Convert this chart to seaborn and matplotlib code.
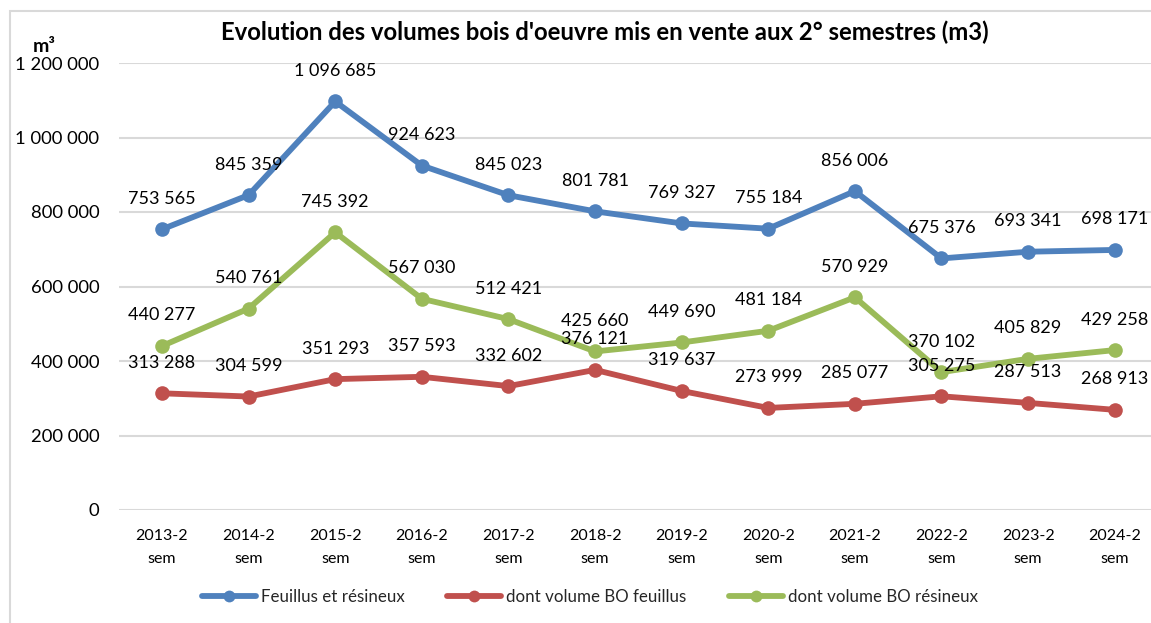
import matplotlib
matplotlib.use("Agg")
import matplotlib.pyplot as plt
import seaborn as sns
import pandas as pd
from matplotlib.ticker import FuncFormatter, MultipleLocator
from matplotlib.patches import Rectangle
from matplotlib.lines import Line2D

categories = ["2013-2\nsem", "2014-2\nsem", "2015-2\nsem", "2016-2\nsem", "2017-2\nsem", "2018-2\nsem",
              "2019-2\nsem", "2020-2\nsem", "2021-2\nsem", "2022-2\nsem", "2023-2\nsem", "2024-2\nsem"]
total = [753565, 845359, 1096685, 924623, 845023, 801781, 769327, 755184, 856006, 675376, 693341, 698171]
feuillus = [313288, 304599, 351293, 357593, 332602, 376121, 319637, 273999, 285077, 305275, 287513, 268913]
resineux = [440277, 540761, 745392, 567030, 512421, 425660, 449690, 481184, 570929, 370102, 405829, 429258]
series_names = ["Feuillus et résineux", "dont volume BO feuillus", "dont volume BO résineux"]
colors = ["#4F81BD", "#C0504D", "#9BBB59"]

sns.set_theme(style="white")
plt.rcParams["font.family"] = ["Lato", "DejaVu Sans"]

W, H = 1151, 623
fig = plt.figure(figsize=(W / 100, H / 100), dpi=100)
ax = fig.add_axes([118.7 / W, 113 / H, (1158 - 118.7) / W, (510 - 63) / H])

fmt = lambda v: f"{int(round(v)):,}".replace(",", " ")

handles = []
for name, vals, col in zip(series_names, [total, feuillus, resineux], colors):
    df = pd.DataFrame({"cat": categories, "val": vals})
    sns.lineplot(data=df, x="cat", y="val", ax=ax, color=col, linewidth=4.2,
                 marker="o", markersize=10.5, markeredgewidth=0, sort=False)
    for i, v in enumerate(vals):
        ax.annotate(fmt(v), (i, v), xytext=(0, 22), textcoords="offset points",
                    ha="center", va="center", fontsize=13, color="#000000")
    handles.append(Line2D([], [], color=col, linewidth=4.2, marker="o", markersize=8.5,
                          markeredgewidth=0))

ax.set_xlim(-0.5, len(categories) - 0.5)
ax.set_ylim(0, 1200000)
ax.yaxis.set_major_locator(MultipleLocator(200000))
ax.yaxis.set_major_formatter(FuncFormatter(lambda v, p: fmt(v)))
ax.grid(axis="y", color="#D9D9D9", linewidth=1.5)
ax.grid(axis="x", visible=False)
ax.set_axisbelow(True)
for s in ax.spines.values():
    s.set_visible(False)
ax.tick_params(axis="y", length=0, pad=14, labelsize=13.3, labelcolor="#000000")
ax.tick_params(axis="x", length=0, pad=14, labelsize=11.5, labelcolor="#000000")
ax.set_xlabel("")
ax.set_ylabel("")
for t in ax.get_xticklabels():
    t.set_linespacing(1.75)

fig.text(604.5 / W, 1 - 32 / H, "Evolution des volumes bois d'oeuvre mis en vente aux 2° semestres (m3)",
         ha="center", va="center", fontsize=17.2, fontweight="bold", color="#000000")
fig.text(44 / W, 1 - 46 / H, "m³", ha="center", va="center", fontsize=14, fontweight="bold",
         color="#000000")

fig.legend(handles, series_names, loc="center", bbox_to_anchor=(590 / W, 1 - 597 / H), ncol=3,
           frameon=False, fontsize=12.2, handlelength=3.2, columnspacing=2.5, handletextpad=0.3)

fig.patches.append(Rectangle((10 / W, -0.1), 1.2, 1.1 - 11 / H, transform=fig.transFigure,
                             fill=False, edgecolor="#D9D9D9", linewidth=1.5))

fig.savefig("out.png", dpi=100)
